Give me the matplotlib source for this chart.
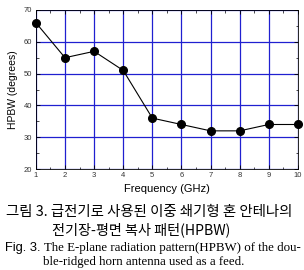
import matplotlib.pyplot as plt
import numpy as np

freq = [1, 2, 3, 4, 5, 6, 7, 8, 9, 10]
hpbw = [66, 55, 57, 51, 36, 34, 32, 32, 34, 34]
xticks = [1, 2, 3, 4, 5, 6, 7, 8, 9, 10]
yticks = [20, 30, 40, 50, 60, 70]

cap_kr1 = "그림 3. 급전기로 사용된 이중 쇄기형 혼 안테나의"
cap_kr2 = "전기장-평면 복사 패턴(HPBW)"
cap_fig = "Fig. 3."
cap_en1 = "The E-plane radiation pattern(HPBW) of the dou-"
cap_en2 = "ble-ridged horn antenna used as a feed."

fig = plt.figure(figsize=(3.04, 2.70), dpi=100)
ax = fig.add_axes([0.118, 0.374, 0.862, 0.589])

ax.plot(freq, hpbw, color='black', lw=0.8, marker='o', ms=5.5, clip_on=False, zorder=3)
ax.set_xlim(1, 10)
ax.set_ylim(20, 70)
ax.set_xticks(xticks)
ax.set_xticks(np.arange(1.5, 10, 1), minor=True)
ax.set_yticks(yticks)
ax.set_yticks(np.arange(25, 70, 10), minor=True)
ax.grid(True, which='major', color='#2020d0', lw=0.9)
ax.tick_params(direction='in', which='both', top=True, right=True, labelsize=5.5, pad=2.5,
               labelcolor='#333333')
ax.tick_params(which='major', length=3, width=0.6)
ax.tick_params(which='minor', length=1.8, width=0.5)
for lab in ax.get_xticklabels() + ax.get_yticklabels():
    lab.set_family('Liberation Sans')
for s in ax.spines.values():
    s.set_linewidth(0.6)
ax.set_xlabel("Frequency (GHz)", fontsize=8, family='Liberation Sans', labelpad=3)
ax.set_ylabel("HPBW (degrees)", fontsize=7.5, family='Liberation Sans', labelpad=4)

kr = ['Noto Sans CJK KR', 'DejaVu Sans']
fig.text(149 / 304, 1 - 212 / 270, cap_kr1, family=kr, fontsize=10.4, ha='center', va='center')
fig.text(141 / 304, 1 - 230 / 270, cap_kr2, family=kr, fontsize=10.2, ha='center', va='center')
fig.text(5 / 304, 1 - 248 / 270, cap_fig, family='Liberation Sans', fontsize=9.3, ha='left', va='center')
fig.text(301 / 304, 1 - 248 / 270, cap_en1, family='Liberation Serif', fontsize=9.3, ha='right', va='center')
fig.text(43 / 304, 1 - 262 / 270, cap_en2, family='Liberation Serif', fontsize=9.3, ha='left', va='center')

fig.savefig("out.png", dpi=100)
